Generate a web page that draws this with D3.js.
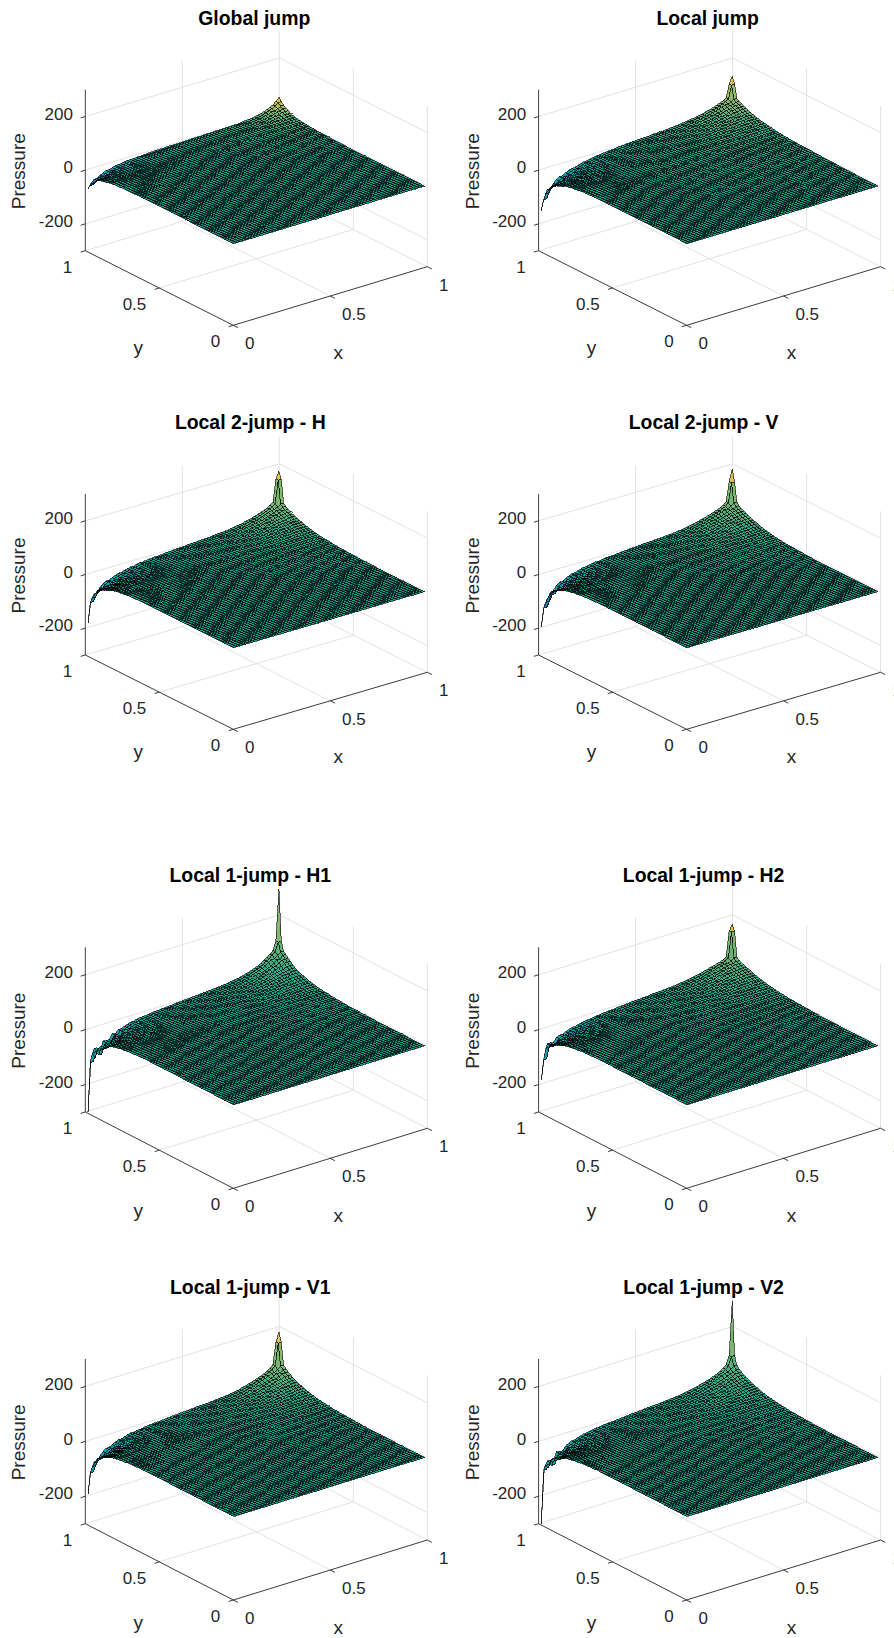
<!DOCTYPE html>
<html>
<head>
<meta charset="utf-8">
<script src="https://cdn.jsdelivr.net/npm/d3@7"></script>
<style>
  body { margin: 0; background: #fff; }
  svg { display: block; font-family: "Liberation Sans", Arial, sans-serif; }
  .tick-label { font-size: 17px; fill: #262626; }
  .axis-label { font-size: 19px; fill: #262626; }
  .title { font-size: 19.4px; font-weight: bold; fill: #000; }
</style>
</head>
<body>
<svg id="chart" width="894" height="1638"></svg>
<script>
// Values, cell by cell out from each singular corner.
// One list for the peak at (1,1), one for the trough at (0,1). Past the end of a list it is 0.
const titles = ["Global jump", "Local jump", "Local 2-jump - H", "Local 2-jump - V",
                "Local 1-jump - H1", "Local 1-jump - H2", "Local 1-jump - V1", "Local 1-jump - V2"];

const globalPeak = [57,45,36,30,25,20,17,14,12,10,9,8,7,6,5,5,4,4,4,3,3,3,2,2,2,2,1,1,1,1,0];
const globalTrough = [-69,-52,-40,-32,-26,-21,-17,-14,-12,-10,-8,-7,-6,-5,-4,-3,-3,-2,-2,-2,-1,-1,-1,-1,0];
const localPeak = [136,110,62,55,50,46,42,38,35,32,29,27,25,23,21,20,18,17,15,14,13,12,11,10,10,9,9,8,8,7,7,7,6,6,6,6,5,5,5,4,4,4,3,3,3,3,2,2,2,2,2,1,1,1,1,0];
const localTrough = [-150,-105,-78,-62,-52,-44,-37,-32,-28,-24,-21,-18,-15,-13,-11,-9,-8,-7,-6,-5,-4,-3,-3,-2,-2,-1,-1,-1,0];
const twoHPeak = [176,150,66,58,52,47,43,39,35,32,29,26,23,21,19,17,15,13,12,11,10,9,8,7,6,6,5,5,4,4,3,3,2,2,2,1,1,1,0];
const twoHTrough = [-182,-100,-78,-60,-50,-43,-37,-32,-28,-24,-21,-18,-15,-13,-11,-9,-8,-7,-6,-5,-4,-3,-3,-2,-2,-1,-1,-1,0];
const twoVPeak = [185,140,70,60,54,49,45,41,37,34,31,28,25,22,20,18,16,14,12,11,10,9,8,7,6,6,5,5,4,4,3,3,2,2,2,1,1,1,0];
const twoVTrough = [-194,-120,-95,-72,-58,-48,-41,-35,-30,-26,-22,-19,-16,-14,-12,-10,-8,-7,-6,-5,-4,-3,-3,-2,-2,-1,-1,-1,0];
const h1Peak = [296,112,80,72,62,56,47,41,37,33,29,26,23,20,18,16,14,12,11,10,9,8,7,6,5,5,4,4,3,3,2,2,2,1,1,1,0];
const h1Trough = [-300,-115,-75,-90,-58,-60,-42,-45,-33,-28,-24,-20,-17,-15,-13,-11,-9,-8,-7,-6,-5,-4,-3,-3,-2,-2,-1,-1,0];
const h2Peak = [172,150,58,50,46,43,40,37,34,31,28,25,23,21,19,17,15,14,12,11,10,9,8,7,6,6,5,5,4,4,3,3,2,2,2,1,1,1,0];
const h2Trough = [-183,-105,-58,-60,-45,-40,-35,-30,-26,-23,-20,-17,-15,-13,-11,-9,-8,-7,-6,-5,-4,-3,-3,-2,-2,-1,-1,0];
const v1Peak = [183,150,72,62,55,49,44,40,36,32,29,26,23,20,18,16,14,12,11,10,9,8,7,6,5,5,4,4,3,3,2,2,2,1,1,1,0];
const v1Trough = [-192,-110,-82,-65,-53,-45,-38,-33,-28,-24,-20,-17,-15,-13,-11,-9,-8,-7,-6,-5,-4,-3,-3,-2,-2,-1,-1,0];
const v2Peak = [295,102,72,62,55,49,44,40,36,33,30,27,24,21,19,17,15,14,12,11,10,9,8,7,6,5,5,4,4,3,3,2,2,2,1,1,1,0];
const v2Trough = [-300,-100,-78,-85,-55,-58,-42,-38,-32,-27,-23,-20,-17,-15,-13,-11,-9,-8,-7,-6,-5,-4,-3,-3,-2,-2,-1,-1,0];

const peaks = [globalPeak, localPeak, twoHPeak, twoVPeak, h1Peak, h2Peak, v1Peak, v2Peak];
const troughs = [globalTrough, localTrough, twoHTrough, twoVTrough, h1Trough, h2Trough, v1Trough, v2Trough];

const xTicks = [0, 0.5, 1];
const yTicks = [0, 0.5, 1];
const zTicks = [-200, 0, 200];
const lowColors = ["#1a4fc0", "#1485d4", "#0f98c4", "#0aa0aa", "#12a08c"];
const highColors = ["#12a08c", "#5fb27c", "#a8bb62", "#e0bb4c", "#fdc838"];

const n = 64;
const grid = d3.range(n).map(i => (i + 0.5) / n);

// Layout of the 2 x 4 panels
const colX = [85.3, 538.6];
const rowFloor = [250.7, 655, 1112, 1523.7];
const rowHeight = [161, 161, 164.7, 164.7];
const rowXRise = [58.6, 57, 60, 60];
const rowYRise = [74.6, 74.3, 76.3, 76.3];
const rowTitleX = [169, 165, 165, 165];

const svg = d3.select("#chart");
const gridColor = "#e3e3e3";
const axisColor = "#404040";

function lookup(list, d) {
    return d < list.length ? list[d] : 0;
}

function drawPanel(index) {
    const col = index % 2, row = Math.floor(index / 2);
    const left = colX[col], floor = rowFloor[row];
    const frontX = left + 148, frontY = floor + rowYRise[row];

    const sxX = d3.scaleLinear([0, 1], [0, 194]);
    const sxY = d3.scaleLinear([0, 1], [0, -rowXRise[row]]);
    const syX = d3.scaleLinear([0, 1], [0, -148]);
    const syY = d3.scaleLinear([0, 1], [0, -rowYRise[row]]);
    const sz = d3.scaleLinear([-300, 300], [0, -rowHeight[row]]);

    const project = (x, y, z) => [frontX + sxX(x) + syX(y), frontY + sxY(x) + syY(y) + sz(z)];

    const g = svg.append("g");
    const line = (a, b, color, w) => g.append("line")
        .attr("x1", a[0]).attr("y1", a[1]).attr("x2", b[0]).attr("y2", b[1])
        .attr("stroke", color).attr("stroke-width", w);

    // back walls and floor grid
    xTicks.forEach(t => {
        if (t > 0) {
            line(project(t, 0, -300), project(t, 1, -300), gridColor, 1);
            line(project(t, 1, -300), project(t, 1, 300), gridColor, 1);
        }
    });
    yTicks.forEach(t => {
        if (t > 0) line(project(0, t, -300), project(1, t, -300), gridColor, 1);
        if (t < 1 && t > 0) line(project(1, t, -300), project(1, t, 300), gridColor, 1);
    });
    line(project(1, 0, -300), project(1, 0, 300), gridColor, 1);
    zTicks.forEach(t => {
        line(project(0, 1, t), project(1, 1, t), gridColor, 1);
        line(project(1, 1, t), project(1, 0, t), gridColor, 1);
    });

    // the three dark axes
    line(project(0, 1, -300), project(0, 1, 300), axisColor, 1);
    line(project(0, 0, -300), project(1, 0, -300), "#262626", 0.9);
    line(project(0, 0, -300), project(0, 1, -300), "#262626", 0.9);

    const tickLen = 0.024;
    zTicks.forEach(t => {
        const p = project(0, 1, t);
        line(p, project(-tickLen, 1, t), "#262626", 0.9);
        g.append("text").attr("class", "tick-label").attr("text-anchor", "end")
            .attr("x", p[0] - 12.4).attr("y", p[1] + 3.2).text(t);
    });
    xTicks.forEach(t => {
        const p = project(t, 0, -300);
        line(p, project(t, -tickLen * 1.3, -300), "#262626", 0.9);
        g.append("text").attr("class", "tick-label").attr("text-anchor", "start")
            .attr("x", p[0] + 11.8).attr("y", p[1] + 24).text(t);
    });
    yTicks.forEach(t => {
        const p = project(0, t, -300);
        line(p, project(-tickLen, t, -300), "#262626", 0.9);
        g.append("text").attr("class", "tick-label").attr("text-anchor", "end")
            .attr("x", p[0] - 13).attr("y", p[1] + 22).text(t);
    });

    // labels and title
    g.append("text").attr("class", "axis-label").attr("text-anchor", "middle")
        .attr("x", frontX + 105).attr("y", frontY + 34).text("x");
    g.append("text").attr("class", "axis-label").attr("text-anchor", "middle")
        .attr("x", frontX - 95).attr("y", frontY + 29).text("y");
    g.append("text").attr("class", "axis-label").attr("text-anchor", "middle")
        .attr("transform", "translate(" + (left - 60) + "," + (floor - rowHeight[row] / 2 + 1) + ") rotate(-90)")
        .text("Pressure");
    g.append("text").attr("class", "title").attr("text-anchor", "middle")
        .attr("x", left + rowTitleX[row]).attr("y", floor - rowHeight[row] - 65).text(titles[index]);

    // pressure at every mesh node, taken from the two lists
    // the trough reaches further along y=1 than along x=0, so its distance is weighted
    const heights = grid.map((x, i) => grid.map((y, j) => {
        const dPeak = Math.round(Math.hypot(n - 1 - i, n - 1 - j));
        const dTrough = Math.round(Math.hypot(i * 0.75, (n - 1 - j) * 1.15));
        return lookup(peaks[index], dPeak) + lookup(troughs[index], dTrough);
    }));

    // zero sits on the teal of the colour map, as it does in the reference
    const [zMin, zMax] = d3.extent(heights.flat());
    const low = d3.scaleLinear()
        .domain(lowColors.map((c, i) => zMin * (1 - i / (lowColors.length - 1))))
        .range(lowColors);
    const high = d3.scaleLinear()
        .domain(highColors.map((c, i) => zMax * i / (highColors.length - 1)))
        .range(highColors);
    const color = z => z < 0 ? low(z) : high(z);

    // back to front, so that nearer facets cover the far ones
    const cells = [];
    for (let i = n - 2; i >= 0; i--) {
        for (let j = n - 2; j >= 0; j--) cells.push([i, j]);
    }

    const path = ([i, j]) => "M" + [
        project(grid[i], grid[j], heights[i][j]),
        project(grid[i + 1], grid[j], heights[i + 1][j]),
        project(grid[i + 1], grid[j + 1], heights[i + 1][j + 1]),
        project(grid[i], grid[j + 1], heights[i][j + 1])
    ].map(p => p[0].toFixed(2) + "," + p[1].toFixed(2)).join("L") + "Z";

    g.append("g")
        .attr("stroke", "#000")
        .attr("stroke-width", 0.6)
        .attr("shape-rendering", "crispEdges")
        .selectAll("path")
        .data(cells)
        .enter()
        .append("path")
        .attr("d", path)
        .attr("fill", d => color(heights[d[0]][d[1]]));
}

titles.forEach((t, i) => drawPanel(i));
</script>
</body>
</html>
